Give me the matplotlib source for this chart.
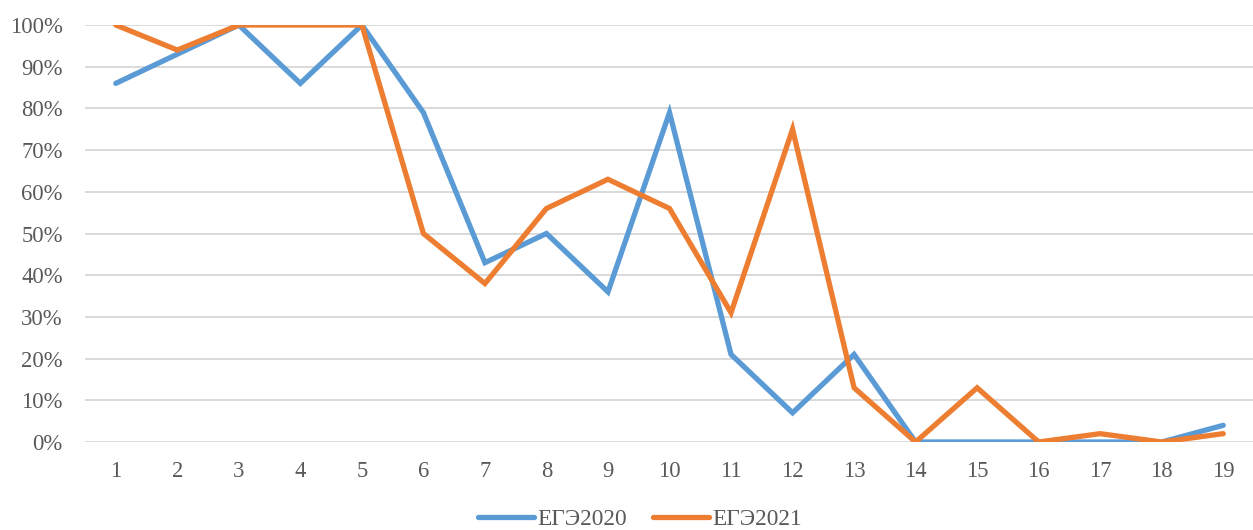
import matplotlib.pyplot as plt
from matplotlib.ticker import PercentFormatter

questions = list(range(1, 20))
ege2020 = [86, 93, 100, 86, 100, 79, 43, 50, 36, 79, 21, 7, 21, 0, 0, 0, 0, 0, 4]
ege2021 = [100, 94, 100, 100, 100, 50, 38, 56, 63, 56, 31, 75, 13, 0, 13, 0, 2, 0, 2]
series_labels = ["ЕГЭ2020", "ЕГЭ2021"]

plt.rcParams["font.family"] = ["Liberation Serif", "DejaVu Serif"]

W, H = 1253, 530
fig = plt.figure(figsize=(W / 100, H / 100), dpi=100)
ax = fig.add_axes([85 / W, 1 - 442 / H, (1254 - 85) / W, (442 - 25) / H])

ax.plot(questions, [v / 100 for v in ege2020], color="#5B9BD5", linewidth=3.8,
        label=series_labels[0], solid_joinstyle="miter", solid_capstyle="round")
ax.plot(questions, [v / 100 for v in ege2021], color="#ED7D31", linewidth=3.8,
        label=series_labels[1], solid_joinstyle="miter", solid_capstyle="round")

ax.set_xlim(0.5, 19.5)
ax.set_ylim(0, 1)
ax.set_xticks(questions)
ax.set_yticks([i / 10 for i in range(11)])
ax.yaxis.set_major_formatter(PercentFormatter(1.0, decimals=0))
ax.tick_params(length=0, labelsize=16.3, colors="#595959")
ax.tick_params(axis="y", pad=16)
ax.tick_params(axis="x", pad=14)
ax.grid(axis="y", color="#D9D9D9", linewidth=1.4)
ax.set_axisbelow(True)
for spine in ax.spines.values():
    spine.set_visible(False)

fig.legend(loc="center", bbox_to_anchor=(0.511, 1 - 519 / H), ncol=2, frameon=False,
           fontsize=16.8, handlelength=2.4, columnspacing=1.1, handletextpad=0.15,
           labelcolor="#595959")

fig.savefig("out.png", dpi=100)
